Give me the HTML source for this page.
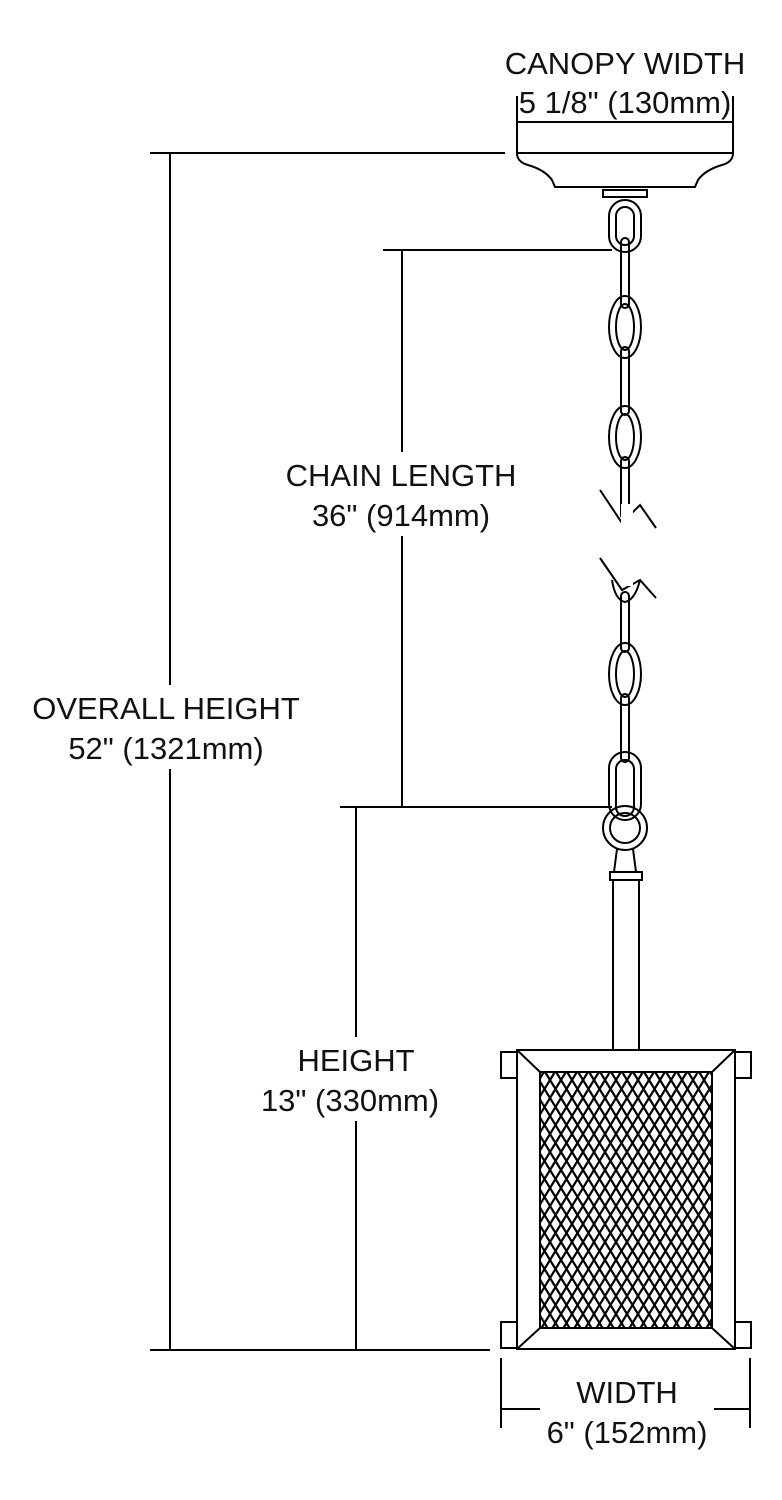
<!DOCTYPE html>
<html><head><style>
html,body{margin:0;padding:0;background:#fff}
svg{display:block}
text{font-family:"Liberation Sans",sans-serif;font-size:31px;fill:#111}
</style></head><body>
<svg width="782" height="1500" viewBox="0 0 782 1500" xmlns="http://www.w3.org/2000/svg">
<defs>
<pattern id="mesh" width="11" height="18" patternUnits="userSpaceOnUse">
<path d="M0,0 L11,18 M11,0 L0,18" stroke="#000" stroke-width="2.2"/>
</pattern>
</defs>
<g stroke="#000" stroke-width="2" fill="none">
<line x1="150" y1="153" x2="505" y2="153"/>
<line x1="170" y1="153" x2="170" y2="1350"/>
<line x1="150" y1="1350" x2="490" y2="1350"/>
<line x1="383" y1="250" x2="612" y2="250"/>
<line x1="402" y1="250" x2="402" y2="807"/>
<line x1="340" y1="807" x2="612" y2="807"/>
<line x1="356" y1="807" x2="356" y2="1350"/>
<line x1="517" y1="96" x2="517" y2="122"/>
<line x1="733" y1="96" x2="733" y2="122"/>
<line x1="501" y1="1358" x2="501" y2="1428"/>
<line x1="750" y1="1358" x2="750" y2="1428"/>
<line x1="501" y1="1409" x2="540" y2="1409"/>
<line x1="714" y1="1409" x2="750" y2="1409"/>
</g>
<g fill="#fff">
<rect x="280" y="452" width="245" height="84"/>
<rect x="25" y="685" width="285" height="84"/>
<rect x="250" y="1037" width="205" height="84"/>
</g>
<g stroke="#000" stroke-width="2" fill="none">
<rect x="517" y="122" width="216" height="31"/>
<path d="M517,153 L733,153 Q733,162 722,165 Q705,170 698,180 L695,187 L555,187 L552,180 Q545,170 528,165 Q517,162 517,153 Z"/>
<rect x="603" y="190" width="44" height="7"/>
<rect x="609" y="200" width="32" height="52" rx="16"/>
<rect x="616" y="207" width="18" height="38" rx="9"/>
<rect x="621" y="238" width="8" height="70" rx="4"/>
<ellipse cx="625" cy="327" rx="16" ry="31"/><ellipse cx="625" cy="327" rx="9" ry="23"/>
<rect x="621" y="347" width="8" height="68" rx="4"/>
<ellipse cx="625" cy="437" rx="16" ry="31"/><ellipse cx="625" cy="437" rx="9" ry="23"/>
<rect x="621" y="457" width="8" height="62" rx="4"/>
<path d="M600,490 L622,523 L640,505 L656,528"/>
<path d="M600,558 L622,590 L640,580 L656,598"/>
<path d="M612,580 Q615,600 625,602 Q635,600 640,580"/>
<rect x="621" y="592" width="8" height="60" rx="4"/>
<ellipse cx="625" cy="674" rx="16" ry="31"/><ellipse cx="625" cy="674" rx="9" ry="23"/>
<rect x="621" y="694" width="8" height="68" rx="4"/>
<rect x="609" y="752" width="32" height="68" rx="16"/>
<rect x="616" y="760" width="18" height="56" rx="9"/>
<circle cx="625" cy="828" r="22"/><circle cx="625" cy="828" r="15"/>
<path d="M617,849 L614,872 L636,872 L633,849"/>
<rect x="610" y="872" width="32" height="8"/>
<rect x="613" y="880" width="26" height="170"/>
<rect x="501" y="1052" width="16" height="26"/>
<rect x="735" y="1052" width="16" height="26"/>
<rect x="501" y="1322" width="16" height="26"/>
<rect x="735" y="1322" width="16" height="26"/>
<rect x="517" y="1050" width="218" height="299"/>
<rect x="540" y="1072" width="172" height="256" fill="url(#mesh)"/>
<line x1="517" y1="1050" x2="540" y2="1072"/>
<line x1="735" y1="1050" x2="712" y2="1072"/>
<line x1="517" y1="1349" x2="540" y2="1328"/>
<line x1="735" y1="1349" x2="712" y2="1328"/>
</g>
<rect x="621" y="504" width="12" height="82" fill="#fff"/>
<text x="625" y="74" text-anchor="middle">CANOPY WIDTH</text>
<text x="625" y="113" text-anchor="middle">5 1/8" (130mm)</text>
<text x="401" y="486" text-anchor="middle">CHAIN LENGTH</text>
<text x="401" y="526" text-anchor="middle">36" (914mm)</text>
<text x="166" y="719" text-anchor="middle">OVERALL HEIGHT</text>
<text x="166" y="759" text-anchor="middle">52" (1321mm)</text>
<text x="356" y="1071" text-anchor="middle">HEIGHT</text>
<text x="350" y="1111" text-anchor="middle">13" (330mm)</text>
<text x="627" y="1403" text-anchor="middle">WIDTH</text>
<text x="627" y="1443" text-anchor="middle">6" (152mm)</text>
</svg>
</body></html>
